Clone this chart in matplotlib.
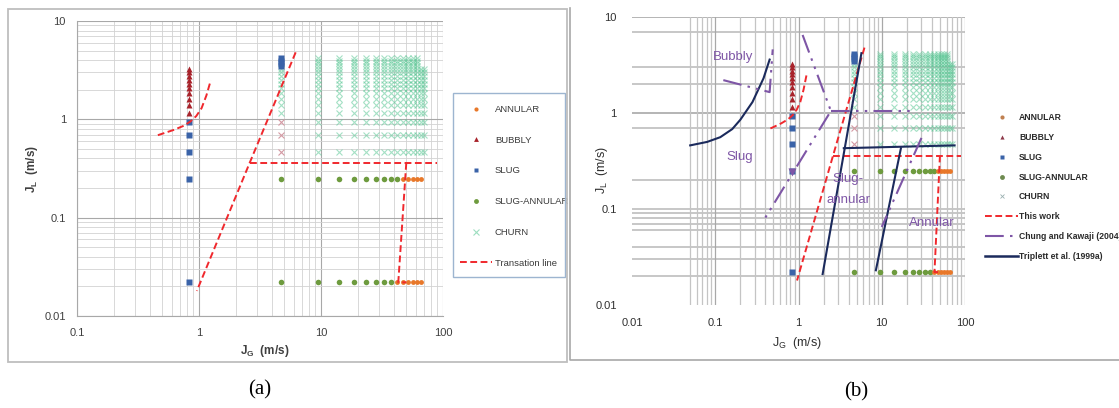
import matplotlib.pyplot as plt
from matplotlib.lines import Line2D
from matplotlib.patches import Rectangle

plt.rcParams['font.family'] = ['Liberation Sans', 'DejaVu Sans']
plt.rcParams['mathtext.fontset'] = 'custom'
plt.rcParams['mathtext.rm'] = 'Liberation Sans'
plt.rcParams['mathtext.it'] = 'Liberation Sans'
plt.rcParams['mathtext.bf'] = 'Liberation Sans:bold'

# measured JL rows (m/s)
jl_rows = [0.022, 0.25, 0.47, 0.70, 0.93, 1.16, 1.39, 1.62, 1.85, 2.08,
           2.31, 2.54, 2.77, 3.00, 3.23, 3.46, 3.70, 3.93, 4.16]

annular_jg = [47.0, 51.7, 56.4, 61.1, 65.8, 42.3, 47.0, 51.7, 56.4, 61.1, 65.8]
annular_jl = [0.25, 0.25, 0.25, 0.25, 0.25, 0.022, 0.022, 0.022, 0.022, 0.022, 0.022]

sa_jg = [4.7, 9.4, 14.1, 18.8, 23.5, 28.2, 32.9, 37.6, 42.3,
         4.7, 9.4, 14.1, 18.8, 23.5, 28.2, 32.9, 37.6]
sa_jl = [0.25, 0.25, 0.25, 0.25, 0.25, 0.25, 0.25, 0.25, 0.25,
         0.022, 0.022, 0.022, 0.022, 0.022, 0.022, 0.022, 0.022]

bubbly_jg = [0.83, 0.83, 0.83, 0.83, 0.83, 0.83, 0.83, 0.83, 0.83, 0.83]
bubbly_jl = [1.16, 1.39, 1.62, 1.85, 2.08, 2.31, 2.54, 2.77, 3.00, 3.23]

slug_jg = [0.83, 0.83, 0.83, 0.83, 0.83, 4.7, 4.7, 4.7, 4.7]
slug_jl = [0.022, 0.25, 0.47, 0.70, 0.93, 3.46, 3.70, 3.93, 4.16]

# churn columns: JG, lowest and highest JL row in the column
churn_cols = [4.7, 9.4, 14.1, 18.8, 23.5, 28.2, 32.9, 37.6, 42.3, 47.0, 51.7, 56.4, 61.1, 65.8, 70.5]
churn_lo = [1.16, 0.47, 0.47, 0.47, 0.47, 0.47, 0.47, 0.47, 0.47, 0.47, 0.47, 0.47, 0.47, 0.47, 0.47]
churn_hi = [3.23, 4.16, 4.16, 4.16, 4.16, 4.16, 4.16, 4.16, 4.16, 4.16, 4.16, 4.16, 4.16, 3.23, 3.23]
churn_pink_jg = [4.7, 4.7, 4.7]
churn_pink_jl = [0.47, 0.70, 0.93]

# transition line (this work)
tw_curve_x = [0.46, 0.62, 0.75, 0.85, 0.95, 1.05, 1.15, 1.25]
tw_curve_y = [0.69, 0.78, 0.86, 0.95, 1.08, 1.30, 1.75, 2.5]
tw_main_x = [6.2, 2.6, 0.96]
tw_main_y = [4.8, 0.36, 0.018]
tw_top_x = [2.6, 89]
tw_top_y = [0.36, 0.36]
tw_right_x = [50, 43, 50]
tw_right_y = [0.36, 0.022, 0.022]

# Triplett et al. (1999a)
tr_curve_x = [0.05, 0.08, 0.115, 0.16, 0.2, 0.28, 0.38, 0.45]
tr_curve_y = [0.46, 0.50, 0.56, 0.68, 0.85, 1.3, 2.3, 3.6]
tr_l1_x = [1.95, 5.7]
tr_l1_y = [0.021, 4.2]
tr_l2_x = [8.5, 17]
tr_l2_y = [0.023, 0.43]
tr_h_x = [3.5, 75]
tr_h_y = [0.43, 0.46]

# Chung and Kawaji (2004)
ck_a_x = [0.125, 0.45, 0.49]
ck_a_y = [2.2, 1.65, 4.6]
ck_b_x = [1.12, 2.45, 0.37]
ck_b_y = [6.5, 1.05, 0.073]
ck_c_x = [2.45, 23]
ck_c_y = [1.05, 1.05]
ck_d_x = [30, 10]
ck_d_y = [0.55, 0.065]

C_ANN = '#E8782A'
C_BUB = '#A8232B'
C_SLUG = '#3A63A8'
C_SA = '#6E9B3E'
C_CHURN = '#5CC896'
C_RED = '#F0282D'
C_TRIP = '#1B2A5C'
C_CHUNG = '#7E56A6'
CHUNG_LS = (0, (9, 3, 1.2, 3, 1.2, 3))

churn_x = [c for c, lo, hi in zip(churn_cols, churn_lo, churn_hi) for r in jl_rows if lo <= r <= hi]
churn_y = [r for c, lo, hi in zip(churn_cols, churn_lo, churn_hi) for r in jl_rows if lo <= r <= hi]


def draw_points(ax):
    ax.plot(churn_x, churn_y, 'x', color=C_CHURN, ms=4.5, mew=0.8, alpha=0.55, zorder=3)
    ax.plot(churn_pink_jg, churn_pink_jl, 'x', color='#D49AA4', ms=4.5, mew=0.8, zorder=3)
    ax.plot(sa_jg, sa_jl, 'o', color=C_SA, ms=4, mec='none', zorder=4)
    ax.plot(annular_jg, annular_jl, 'o', color=C_ANN, ms=3.5, mec='none', zorder=4)
    ax.plot(bubbly_jg, bubbly_jl, '^', color=C_BUB, ms=4, mec='none', zorder=4)
    ax.plot(slug_jg, slug_jl, 's', color=C_SLUG, ms=4.3, mec='none', zorder=4)


def draw_this_work(ax):
    kw = dict(color=C_RED, lw=1.4, ls=(0, (3.5, 1.8)), zorder=5)
    ax.plot(tw_curve_x, tw_curve_y, **kw)
    ax.plot(tw_main_x, tw_main_y, **kw)
    ax.plot(tw_top_x, tw_top_y, **kw)
    ax.plot(tw_right_x, tw_right_y, **kw)


fig = plt.figure(figsize=(11.19, 4.08), dpi=100)

# ---------- (a) ----------
ax1 = fig.add_axes([77 / 1119, 1 - 316 / 408, 366 / 1119, 295 / 408])
ax1.set_xscale('log')
ax1.set_yscale('log')
ax1.set_xlim(0.1, 100)
ax1.set_ylim(0.01, 10)
ax1.set_axisbelow(True)
ax1.grid(which='major', color='#A8A8A8', lw=0.8)
ax1.grid(which='minor', color='#D2D2D2', lw=0.6)
for s in ['top', 'right']:
    ax1.spines[s].set_visible(False)
for s in ['left', 'bottom']:
    ax1.spines[s].set_color('#A8A8A8')
ax1.set_xticks([0.1, 1, 10, 100])
ax1.set_xticklabels(['0.1', '1', '10', '100'])
ax1.set_yticks([0.01, 0.1, 1, 10])
ax1.set_yticklabels(['0.01', '0.1', '1', '10'])
ax1.tick_params(which='both', length=0, labelsize=8, labelcolor='#404040')
ax1.tick_params(axis='x', pad=9)
ax1.tick_params(axis='y', pad=8)

draw_points(ax1)
draw_this_work(ax1)

handles_a = [
    Line2D([], [], ls='none', marker='o', color=C_ANN, ms=3, mec='none'),
    Line2D([], [], ls='none', marker='^', color=C_BUB, ms=3.5, mec='none'),
    Line2D([], [], ls='none', marker='s', color=C_SLUG, ms=3.5, mec='none'),
    Line2D([], [], ls='none', marker='o', color=C_SA, ms=3.5, mec='none'),
    Line2D([], [], ls='none', marker='x', color=C_CHURN, ms=4, mew=0.8, alpha=0.6),
    Line2D([], [], color=C_RED, lw=1.4, ls=(0, (3.5, 1.8))),
]
labels_a = ['ANNULAR', 'BUBBLY', 'SLUG', 'SLUG-ANNULAR', 'CHURN', 'Transation line']
leg_a = ax1.legend(handles_a, labels_a, loc='upper left',
                   bbox_to_anchor=(460 / 1119, 1 - 105 / 408), bbox_transform=fig.transFigure,
                   fontsize=6.8, labelspacing=2.3, handlelength=3.4, handletextpad=0.3,
                   borderpad=0, borderaxespad=0, frameon=False)
for t in leg_a.get_texts():
    t.set_color('#3A3A3A')
fig.add_artist(Rectangle((453 / 1119, 1 - 277 / 408), 112 / 1119, 184 / 408,
                         transform=fig.transFigure, fill=False, ec='#9DB5D0', lw=1.0))

fig.text(32 / 1119, 1 - 169 / 408, r'$\mathbf{J_L}$  (m/s)', rotation=90,
         ha='center', va='center', fontsize=8.5, fontweight='bold', color='#404040')
fig.text(265 / 1119, 1 - 351 / 408, r'$\mathbf{J_G}$  (m/s)',
         ha='center', va='center', fontsize=8.5, fontweight='bold', color='#404040')

fig.add_artist(Rectangle((8 / 1119, 1 - 362 / 408), 559 / 1119, 353 / 408,
                         transform=fig.transFigure, fill=False, ec='#BEBEBE', lw=1.3))

# ---------- (b) ----------
ax2 = fig.add_axes([632 / 1119, 1 - 305 / 408, 333 / 1119, 288 / 408])
ax2.set_xscale('log')
ax2.set_yscale('log')
ax2.set_xlim(0.01, 100)
ax2.set_ylim(0.01, 10)
for s in ax2.spines.values():
    s.set_visible(False)

h_lines = [10, 7, 3, 2, 1, 0.7, 0.2, 0.1, 0.09, 0.08, 0.07, 0.06, 0.04, 0.03, 0.02]
v_lines = [0.05, 0.06, 0.07, 0.08, 0.09, 0.1, 0.2, 0.3, 0.4, 0.5, 0.6, 0.7, 0.8, 0.9,
           1, 2, 3, 4, 5, 6, 7, 8, 9, 10, 20, 30, 40, 50, 60, 70, 80, 90, 100]
for h in h_lines:
    ax2.axhline(h, color='#A0A0A0' if h in (1, 10) else '#B8B8B8', lw=1.1, zorder=0)
for v in v_lines:
    ax2.axvline(v, color='#A8A8A8' if v in (0.1, 1, 10, 100) else '#C4C4C4', lw=0.9, zorder=0)

ax2.set_xticks([0.01, 0.1, 1, 10, 100])
ax2.set_xticklabels(['0.01', '0.1', '1', '10', '100'])
ax2.set_yticks([0.01, 0.1, 1, 10])
ax2.set_yticklabels(['0.01', '0.1', '1', '10'])
ax2.minorticks_off()
ax2.tick_params(which='both', length=0, labelsize=8, labelcolor='#303030')
ax2.tick_params(axis='x', pad=9)
ax2.tick_params(axis='y', pad=11)

draw_points(ax2)
draw_this_work(ax2)

ax2.plot(tr_curve_x, tr_curve_y, color=C_TRIP, lw=1.5, zorder=6)
ax2.plot(tr_l1_x, tr_l1_y, color=C_TRIP, lw=1.5, zorder=6)
ax2.plot(tr_l2_x, tr_l2_y, color=C_TRIP, lw=1.5, zorder=6)
ax2.plot(tr_h_x, tr_h_y, color=C_TRIP, lw=1.5, zorder=6)

for xs, ys in [(ck_a_x, ck_a_y), (ck_b_x, ck_b_y), (ck_c_x, ck_c_y), (ck_d_x, ck_d_y)]:
    ax2.plot(xs, ys, color=C_CHUNG, lw=1.5, ls=CHUNG_LS, zorder=6)
ax2.plot([0.83], [0.24], 'v', color=C_CHUNG, ms=6, mec='none', zorder=7)

lab_kw = dict(color=C_CHUNG, fontsize=9.5, ha='center', va='center', zorder=8)
ax2.text(0.163, 3.83, 'Bubbly', **lab_kw)
ax2.text(0.198, 0.35, 'Slug', **lab_kw)
ax2.text(3.94, 0.205, 'Slug-', **lab_kw)
ax2.text(3.94, 0.124, 'annular', **lab_kw)
ax2.text(40.2, 0.0715, 'Annular', **lab_kw)

handles_b = [
    Line2D([], [], ls='none', marker='o', color='#C08050', ms=3, mec='none'),
    Line2D([], [], ls='none', marker='^', color='#8E3A4A', ms=3, mec='none'),
    Line2D([], [], ls='none', marker='s', color=C_SLUG, ms=3, mec='none'),
    Line2D([], [], ls='none', marker='o', color='#6E8A50', ms=3.5, mec='none'),
    Line2D([], [], ls='none', marker='x', color='#9AAFB0', ms=3.5, mew=0.6),
    Line2D([], [], color=C_RED, lw=1.4, ls=(0, (3.5, 1.8))),
    Line2D([], [], color=C_CHUNG, lw=1.5, ls=CHUNG_LS),
    Line2D([], [], color=C_TRIP, lw=1.8),
]
labels_b = ['ANNULAR', 'BUBBLY', 'SLUG', 'SLUG-ANNULAR', 'CHURN', 'This work',
            'Chung and Kawaji (2004)', 'Triplett et al. (1999a)']
leg_b = fig.legend(handles_b, labels_b, loc='upper left',
                   bbox_to_anchor=(981 / 1119, 1 - 109 / 408),
                   prop={'size': 6.2, 'weight': 'bold'}, labelspacing=1.25,
                   handlelength=3.8, handletextpad=0.1, borderpad=0, frameon=False)
for t in leg_b.get_texts():
    t.set_color('#2A2A2A')

fig.text(602 / 1119, 1 - 170 / 408, r'$J_L$  (m/s)', rotation=90,
         ha='center', va='center', fontsize=9, color='#303030')
fig.text(797 / 1119, 1 - 343 / 408, r'$J_G$  (m/s)',
         ha='center', va='center', fontsize=9, color='#303030')

fig.add_artist(Line2D([570 / 1119, 570 / 1119, 1.0], [1 - 8 / 408, 1 - 360 / 408, 1 - 360 / 408],
                      transform=fig.transFigure, color='#A8A8A8', lw=1.2))

fig.text(260 / 1119, 1 - 390 / 408, '(a)', family='Liberation Serif', fontsize=15,
         ha='center', va='center', color='black')
fig.text(856 / 1119, 1 - 392 / 408, '(b)', family='Liberation Serif', fontsize=15,
         ha='center', va='center', color='black')

fig.savefig('out.png', dpi=100)
